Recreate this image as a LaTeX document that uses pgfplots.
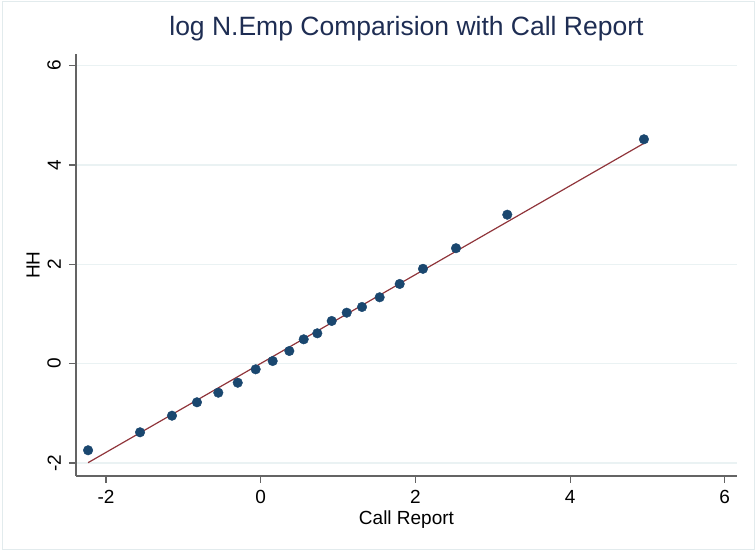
\documentclass[border=0pt]{standalone}
\usepackage{pgfplots}
\pgfplotsset{compat=1.18}
\usepackage{fontspec}
\setmainfont{Liberation Sans}
\definecolor{stnavy}{RGB}{26,71,111}
\definecolor{stmaroon}{RGB}{144,53,59}
\definecolor{sttitle}{RGB}{30,45,83}
\definecolor{stgrid}{RGB}{234,242,243}
\definecolor{stframe}{RGB}{226,235,237}
\definecolor{staxis}{RGB}{100,100,100}
\begin{document}
\begin{tikzpicture}
\useasboundingbox (0,0) rectangle (756pt,552pt);
\draw[stframe, line width=1pt] (2pt,2pt) rectangle (754pt,550pt);
\begin{axis}[
  at={(76pt,76pt)}, anchor=south west,
  scale only axis, width=661pt, height=422pt,
  xmin=-2.388, xmax=6.158, ymin=-2.261, ymax=6.235,
  axis lines*=left,
  axis line style={staxis, line width=1.1pt},
  tick align=outside,
  major tick length=7pt,
  tick style={staxis, line width=1.1pt},
  xtick={-2,0,2,4,6}, ytick={-2,0,2,4,6},
  ymajorgrids,
  major grid style={stgrid, line width=1.2pt},
  /pgf/number format/assume math mode=true,
  ticklabel style={font=\fontsize{19}{22}\selectfont},
  xticklabel style={anchor=north, inner sep=0pt, yshift=-7pt},
  yticklabel style={xshift=-8pt, rotate=90, anchor=south, inner sep=0pt},
  title={log N.Emp Comparision with Call Report},
  title style={at={(0.5,1)}, anchor=center, yshift=19pt, text=sttitle, font=\fontsize{26.5}{30}\selectfont},
  xlabel={Call Report},
  xlabel style={at={(0.5,0)}, anchor=base, yshift=-49pt, font=\fontsize{19}{22}\selectfont},
  ylabel={HH},
  ylabel style={at={(0,0.5)}, anchor=center, yshift=43pt, font=\fontsize{19}{22}\selectfont},
  clip=false,
]
\addplot[only marks, mark=*, mark size=4.8pt, color=stnavy, mark options={fill=stnavy, draw=stnavy}] coordinates {
(-2.232,-1.743) (-1.560,-1.381) (-1.147,-1.047) (-0.824,-0.777) (-0.548,-0.584)
(-0.297,-0.383) (-0.065,-0.113) (0.155,0.054) (0.370,0.256) (0.556,0.491)
(0.732,0.612) (0.918,0.860) (1.112,1.027) (1.310,1.142) (1.538,1.337)
(1.797,1.605) (2.098,1.910) (2.525,2.325) (3.188,3.000) (4.955,4.518)
};
\addplot[no marks, color=stmaroon, line width=1.2pt] coordinates {(-2.232,-1.993) (4.955,4.437)};
\end{axis}
\end{tikzpicture}
\end{document}
